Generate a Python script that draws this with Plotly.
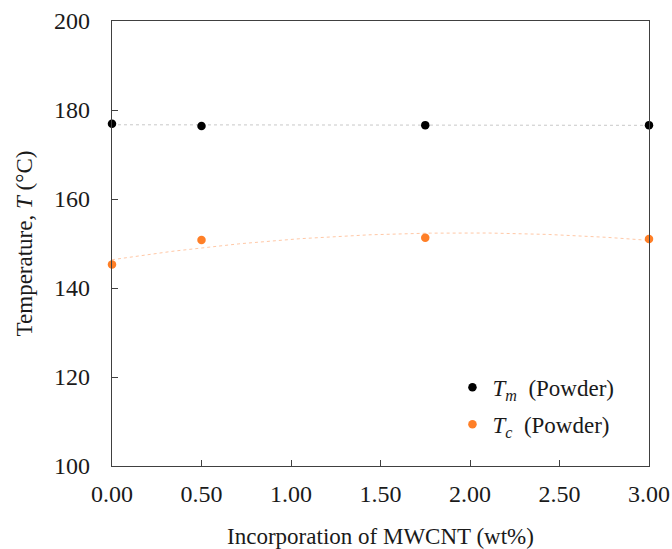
import numpy as np
import plotly.graph_objects as go

mwcnt = [0.0, 0.5, 1.75, 3.0]
tm_powder = [176.9, 176.4, 176.6, 176.6]
tc_powder = [145.3, 150.8, 151.3, 151.0]
x_ticks = [0.0, 0.5, 1.0, 1.5, 2.0, 2.5, 3.0]
y_ticks = [100, 120, 140, 160, 180, 200]

FONT = "Liberation Serif, Times New Roman, serif"
ORANGE = "#FF7F27"
TXT = "#1a1a1a"

xf = np.linspace(0, 3, 200)
tm_fit = np.polyval(np.polyfit(mwcnt, tm_powder, 1), xf)
tc_fit = np.polyval(np.polyfit(mwcnt, tc_powder, 2), xf)

fig = go.Figure()
fig.add_trace(go.Scatter(x=xf, y=tm_fit, mode="lines", showlegend=False,
                         line=dict(color="#c8c8c8", width=1, dash="dot"), hoverinfo="skip"))
fig.add_trace(go.Scatter(x=xf, y=tc_fit, mode="lines", showlegend=False,
                         line=dict(color="#ffc8a6", width=1, dash="dot"), hoverinfo="skip"))
fig.add_trace(go.Scatter(x=mwcnt, y=tm_powder, mode="markers", name="<i>T</i><sub><i>m</i></sub>  (Powder)",
                         legendgroup="a", marker=dict(color="black", size=8.5), cliponaxis=False))
fig.add_trace(go.Scatter(x=mwcnt, y=tc_powder, mode="markers", name="<i>T</i><sub><i>c</i></sub>  (Powder)",
                         legendgroup="b", marker=dict(color=ORANGE, size=8.5), cliponaxis=False))

axis_common = dict(showgrid=False, zeroline=False, showline=True, linecolor="#404040", linewidth=1.3,
                   mirror=True, ticks="inside", ticklen=6, tickcolor="#404040", tickwidth=1.3,
                   automargin=False, tickfont=dict(family=FONT, size=24, color=TXT))

fig.update_xaxes(range=[0, 3], tickvals=x_ticks, tickformat=".2f", ticklabelstandoff=6,
                 title=dict(text="Incorporation of MWCNT (wt%)", font=dict(family=FONT, size=23, color=TXT), standoff=26),
                 **axis_common)
fig.update_yaxes(range=[100, 200], tickvals=y_ticks, ticklabelstandoff=16,
                 title=dict(text="Temperature, <i>T</i> (°C)", font=dict(family=FONT, size=23, color=TXT), standoff=14),
                 **axis_common)

fig.update_layout(
    width=672, height=549,
    margin=dict(l=112, r=23, t=21, b=83),
    plot_bgcolor="white", paper_bgcolor="white",
    font=dict(family=FONT, color=TXT),
    legend=dict(x=0.945, xanchor="right", y=0.225, yanchor="top", font=dict(family=FONT, size=23, color=TXT),
                bgcolor="rgba(0,0,0,0)", traceorder="grouped", tracegroupgap=4, itemwidth=30),
)

fig.write_html("out.html")
